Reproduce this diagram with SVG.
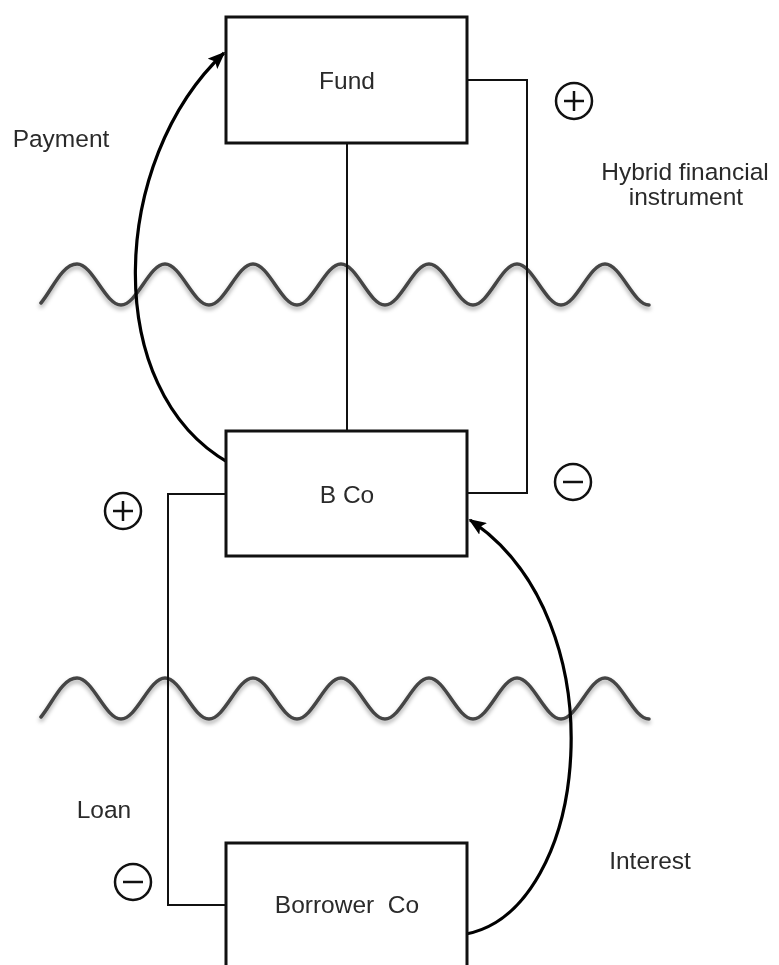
<svg xmlns="http://www.w3.org/2000/svg" xmlns:xlink="http://www.w3.org/1999/xlink" width="779" height="965" viewBox="0 0 779 965">
<style>
.box{fill:#fff;stroke:#111;stroke-width:3}
.lbl{font-family:"Liberation Sans",Arial,sans-serif;font-size:24.5px;fill:#2a2a2a;text-anchor:middle}
.conn{fill:none;stroke:#111;stroke-width:2}
.arc{fill:none;stroke:#000;stroke-width:3.2}
.sign{fill:none;stroke:#111;stroke-width:2.5}
.wave{fill:none;stroke:#444;stroke-width:3.5;stroke-linecap:round}
</style>
<defs>
<filter id="sh" x="-5%" y="-30%" width="110%" height="180%">
<feDropShadow dx="0" dy="3" stdDeviation="2" flood-color="#000" flood-opacity="0.35"/>
</filter>
<marker id="ah" viewBox="0 0 10 8" refX="9" refY="4" markerWidth="5.5" markerHeight="4.4" orient="auto" markerUnits="strokeWidth">
<path d="M0,0 L10,4 L0,8 L2,4 z" fill="#000"/>
</marker>
<path id="wv" d="M41,303 C52,290 62,264 77,264 C92.8,264 105.2,305 121,305 S149.2,264 165,264 S193.2,305 209,305 S237.2,264 253,264 S281.2,305 297,305 S325.2,264 341,264 S369.2,305 385,305 S413.2,264 429,264 S457.2,305 473,305 S501.2,264 517,264 S545.2,305 561,305 S589.2,264 605,264 S633.2,305 649,305"/>
</defs>
<rect width="779" height="965" fill="#fff"/>

<g id="waves" filter="url(#sh)">
<use xlink:href="#wv" class="wave"/>
<use xlink:href="#wv" class="wave" transform="translate(0,414)"/>
</g>

<g id="connectors">
<polyline class="conn" points="467,80 527,80 527,493 467,493"/>
<line class="conn" x1="347" y1="143" x2="347" y2="431"/>
<polyline class="conn" points="226,494 168,494 168,905 226,905"/>
<path class="arc" d="M229,463 C100,390 110,160 224,53" marker-end="url(#ah)"/>
<path class="arc" d="M466,934 C590,910 620,620 470,520" marker-end="url(#ah)"/>
</g>

<g id="fund">
<rect class="box" x="226" y="17" width="241" height="126"/>
<text class="lbl" x="347" y="89">Fund</text>
</g>
<g id="bco">
<rect class="box" x="226" y="431" width="241" height="125"/>
<text class="lbl" x="347" y="503">B Co</text>
</g>
<g id="borrower">
<rect class="box" x="226" y="843" width="241" height="140"/>
<text class="lbl" x="347" y="913" xml:space="preserve">Borrower  Co</text>
</g>

<g id="labels">
<text class="lbl" x="61" y="147">Payment</text>
<text class="lbl" x="685" y="180">Hybrid financial</text>
<text class="lbl" x="686" y="205">instrument</text>
<text class="lbl" x="104" y="818">Loan</text>
<text class="lbl" x="650" y="869">Interest</text>
</g>

<g id="signs">
<circle class="sign" cx="574" cy="101" r="18"/>
<path class="sign" stroke-width="3" d="M564,101 H584 M574,91 V111"/>
<circle class="sign" cx="573" cy="482" r="18"/>
<path class="sign" stroke-width="3" d="M563,482 H583"/>
<circle class="sign" cx="123" cy="511" r="18"/>
<path class="sign" stroke-width="3" d="M113,511 H133 M123,501 V521"/>
<circle class="sign" cx="133" cy="882" r="18"/>
<path class="sign" stroke-width="3" d="M123,882 H143"/>
</g>
</svg>
